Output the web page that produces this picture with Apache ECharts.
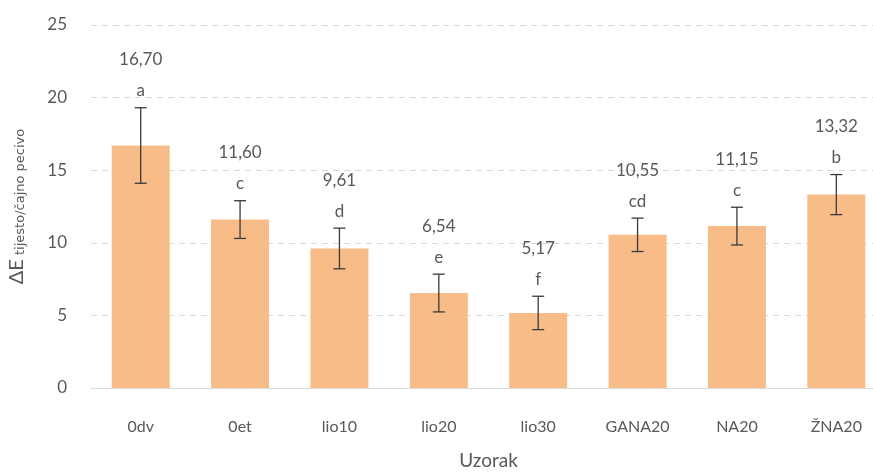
<!DOCTYPE html>
<html>
<head>
<meta charset="utf-8">
<script src="https://cdn.jsdelivr.net/npm/echarts@6/dist/echarts.min.js"></script>
<style>
  html, body { margin: 0; padding: 0; background: #fff; }
  #chart { width: 873px; height: 473px; }
</style>
</head>
<body>
<div id="chart"></div>
<script>
// podaci
var categories = ['0dv', '0et', 'lio10', 'lio20', 'lio30', 'GANA20', 'NA20', 'ŽNA20'];
var means = [16.70, 11.60, 9.61, 6.54, 5.17, 10.55, 11.15, 13.32];
var errors = [2.6, 1.3, 1.4, 1.3, 1.15, 1.15, 1.3, 1.38];
var letters = ['a', 'c', 'd', 'e', 'f', 'cd', 'c', 'b'];
var yTicks = [0, 5, 10, 15, 20, 25];

var textColor = '#595959';
var fontName = 'Lato';

var chart = echarts.init(document.getElementById('chart'));

// error bar data: [index, low, high, mean]
var errData = means.map(function (m, i) {
    return [i, m - errors[i], m + errors[i], m];
});

var option = {
    animation: false,
    textStyle: { fontFamily: fontName },
    grid: { left: 91, right: -13, top: 25, bottom: 85, outerBoundsMode: 'none', containLabel: false },
    xAxis: {
        type: 'category',
        data: categories,
        name: 'Uzorak',
        nameLocation: 'middle',
        nameGap: 63,
        nameTextStyle: { color: textColor, fontSize: 19, fontFamily: fontName },
        axisLine: { lineStyle: { color: '#d9d9d9', width: 1 } },
        axisTick: { show: false },
        axisLabel: { color: textColor, fontSize: 16, margin: 31, fontFamily: fontName }
    },
    yAxis: {
        type: 'value',
        min: yTicks[0],
        max: yTicks[yTicks.length - 1],
        interval: 5,
        name: '{a|ΔE}{b| tijesto/čajno pecivo}',
        nameLocation: 'middle',
        nameRotate: 90,
        nameGap: 64,
        nameTextStyle: {
            color: textColor,
            fontFamily: fontName,
            rich: {
                a: { fontSize: 20, color: textColor, fontFamily: fontName, verticalAlign: 'bottom', lineHeight: 22 },
                b: { fontSize: 13, color: textColor, fontFamily: 'DejaVu Sans', verticalAlign: 'bottom', lineHeight: 16 }
            }
        },
        axisLine: { show: false },
        axisTick: { show: false },
        axisLabel: { color: textColor, fontSize: 17, margin: 24, fontFamily: fontName },
        splitLine: { lineStyle: { color: '#d9d9d9', type: [6, 5], width: 1 } }
    },
    series: [
        {
            type: 'bar',
            data: means,
            barWidth: 58,
            itemStyle: { color: '#F8BC89' }
        },
        {
            type: 'custom',
            data: errData,
            z: 10,
            renderItem: function (params, api) {
                var i = api.value(0);
                var lo = api.coord([i, api.value(1)]);
                var hi = api.coord([i, api.value(2)]);
                var hw = 6;
                var st = { stroke: '#3a3a3a', lineWidth: 1.3 };
                var idx = params.dataIndex;
                var valTxt = means[idx].toFixed(2).replace('.', ',');
                return {
                    type: 'group',
                    children: [
                        { type: 'line', shape: { x1: hi[0], y1: hi[1], x2: lo[0], y2: lo[1] }, style: st },
                        { type: 'line', shape: { x1: hi[0] - hw, y1: hi[1], x2: hi[0] + hw, y2: hi[1] }, style: st },
                        { type: 'line', shape: { x1: lo[0] - hw, y1: lo[1], x2: lo[0] + hw, y2: lo[1] }, style: st },
                        {
                            type: 'text',
                            x: hi[0], y: hi[1] - 17,
                            style: { text: letters[idx], fill: textColor, fontSize: 17, fontFamily: fontName, align: 'center', verticalAlign: 'middle' }
                        },
                        {
                            type: 'text',
                            x: hi[0], y: hi[1] - 48,
                            style: { text: valTxt, fill: textColor, fontSize: 17, fontFamily: fontName, align: 'center', verticalAlign: 'middle' }
                        }
                    ]
                };
            }
        }
    ]
};

chart.setOption(option);
</script>
</body>
</html>
